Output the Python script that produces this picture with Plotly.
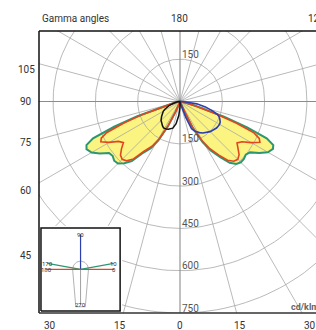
import numpy as np
import plotly.graph_objects as go

# ---------------- data (cd/klm) ----------------
gamma = [0, 5, 10, 15, 20, 23, 26, 29, 32, 36, 39, 42, 45, 48, 51, 54,
         57, 60, 63, 65, 67, 69, 71, 74, 78, 82, 86, 90]

c0 = [0, 0, 0, 1, 10, 40, 100, 155, 195, 235, 268, 285, 290, 282, 265, 250,
      262, 292, 318, 310, 285, 215, 138, 52, 15, 6, 2, 0]          # red, right
c10 = [0, 0, 0, 1, 12, 45, 108, 165, 205, 245, 280, 298, 305, 305, 300, 307,
       335, 360, 370, 365, 334, 255, 165, 62, 18, 8, 3, 0]         # green, right
c90 = [0, 0, 0, 8, 60, 105, 116, 123, 130, 138, 142, 147, 151, 154, 157, 160,
       161, 162, 160, 157, 153, 148, 140, 120, 92, 60, 32, 10]     # blue, right
c170 = [0, 0, 0, 1, 10, 40, 100, 158, 195, 228, 272, 295, 311, 314, 307, 311,
        339, 362, 372, 366, 335, 250, 160, 60, 18, 8, 3, 0]        # green, left
c180 = [0, 0, 0, 1, 9, 36, 94, 150, 187, 219, 262, 283, 290, 284, 267, 248,
        260, 290, 315, 308, 283, 213, 135, 52, 15, 6, 2, 0]        # red, left
c270 = [20, 50, 80, 98, 105, 107, 109, 110, 110, 106, 103, 98, 95, 90, 84, 78,
        73, 68, 60, 55, 48, 42, 36, 28, 17, 9, 4, 0]               # black, left

ring_values = [150, 300, 450, 600, 750]
left_ticks = [105, 90, 75, 60, 45]
bottom_ticks = [30, 15, 0, 15, 30]
bottom_sides = [-1, -1, 1, 1, 1]
top_ticks = [180, 120]
inset_planes = [0, 10, 90, 170, 180, 270]
inset_labels = ["0", "10", "90", "170", "180", "270"]

# ---------------- styles ----------------
YELLOW = "#fbf480"
GREEN = "#2b9772"
RED = "#e2461e"
BLUE = "#2c3fae"
BLACK = "#111111"
GRID = "#a8a8a8"
GRID_MAJOR = "#8c8c8c"
FONT = "Roboto"

X0, X1 = -500, 482.3
Y0, Y1 = -750, 250
LABEL_PAD = 46


def px(xv):
    return (xv - X0) / (X1 - X0)


def py(yv):
    return (yv - Y0) / (Y1 - Y0)


def curve(values, side):
    g = np.radians(gamma)
    v = np.array(values, float)
    return side * v * np.sin(g), -v * np.cos(g)


fig = go.Figure()

# yellow fill of the outer (C10 / C170) curve
rx, ry = curve(c10, 1)
lx, ly = curve(c170, -1)
gx = np.concatenate([rx[::-1], lx])
gy = np.concatenate([ry[::-1], ly])
fig.add_trace(go.Scatter(x=gx, y=gy, fill="toself", fillcolor=YELLOW,
                         mode="lines", line=dict(width=0), hoverinfo="skip"))

# polar grid: spokes every 15 deg and rings
sx, sy, mx, my = [], [], [], []
for a in range(0, 360, 15):
    ex, ey = 1500 * np.sin(np.radians(a)), -1500 * np.cos(np.radians(a))
    if a % 90 == 0:
        mx += [0, ex, None]
        my += [0, ey, None]
    else:
        sx += [0, ex, None]
        sy += [0, ey, None]
fig.add_trace(go.Scatter(x=sx, y=sy, mode="lines",
                         line=dict(color=GRID, width=0.8), hoverinfo="skip"))
t = np.radians(np.arange(0, 361, 2))
cx, cy = [], []
for r in ring_values:
    cx += list(r * np.cos(t)) + [None]
    cy += list(r * np.sin(t)) + [None]
fig.add_trace(go.Scatter(x=cx, y=cy, mode="lines",
                         line=dict(color=GRID, width=0.8), hoverinfo="skip"))
fig.add_trace(go.Scatter(x=mx, y=my, mode="lines",
                         line=dict(color=GRID_MAJOR, width=1.1), hoverinfo="skip"))

# curves
fig.add_trace(go.Scatter(x=gx, y=gy, mode="lines",
                         line=dict(color=GREEN, width=2), hoverinfo="skip"))
rx, ry = curve(c0, 1)
lx, ly = curve(c180, -1)
fig.add_trace(go.Scatter(x=np.concatenate([rx[::-1], lx]),
                         y=np.concatenate([ry[::-1], ly]), mode="lines",
                         line=dict(color=RED, width=1.6), hoverinfo="skip"))
bx, by = curve(c90, 1)
fig.add_trace(go.Scatter(x=np.append(bx, 0), y=np.append(by, 0), mode="lines",
                         line=dict(color=BLUE, width=1.6), hoverinfo="skip"))
kx, ky = curve(c270, -1)
fig.add_trace(go.Scatter(x=np.insert(kx, 0, 0), y=np.insert(ky, 0, 0), mode="lines",
                         line=dict(color=BLACK, width=1.5), hoverinfo="skip"))

# ---------------- inset (C-plane key) ----------------
fig.add_trace(go.Scatter(x=[-1, 1, 1, -1, -1], y=[-1, -1, 1, 1, -1],
                         fill="toself", fillcolor="white", mode="lines",
                         line=dict(color="#111111", width=1.5),
                         xaxis="x2", yaxis="y2", hoverinfo="skip"))
HEAD_R, BASE_HALF, LENGTH = 0.2, 0.12, 0.9
arc = np.radians(np.linspace(180, 0, 30))
lum_x = list(HEAD_R * np.cos(arc)) + [BASE_HALF, -BASE_HALF, -HEAD_R]
lum_y = list(HEAD_R * np.sin(arc)) + [-LENGTH, -LENGTH, 0]
fig.add_trace(go.Scatter(x=lum_x, y=lum_y, mode="lines",
                         line=dict(color="#a0a0a0", width=0.8),
                         xaxis="x2", yaxis="y2", hoverinfo="skip"))
plane_colors = {0: RED, 180: RED, 10: GREEN, 170: GREEN, 90: BLUE, 270: "#777777"}
RK = 0.85
for c in inset_planes:
    a = np.radians(c)
    fig.add_trace(go.Scatter(x=[0, RK * np.cos(a)], y=[0, RK * np.sin(a)],
                             mode="lines",
                             line=dict(color=plane_colors[c],
                                       width=1.2 if c != 270 else 0.7),
                             xaxis="x2", yaxis="y2", hoverinfo="skip"))

ann = []
for c, lab in zip(inset_planes, inset_labels):
    a = np.radians(c)
    ann.append(dict(x=RK * np.cos(a), y=RK * np.sin(a), xref="x2", yref="y2",
                    text=lab, showarrow=False, xanchor="center", yanchor="middle",
                    font=dict(size=6, color="#333", family=FONT)))

# ring labels
lab_font = dict(family=FONT, size=10, color="#555555")
for r in ring_values:
    ann.append(dict(x=px(0), y=py(-r), xref="paper", yref="paper", text=str(r),
                    showarrow=False, xanchor="left", yanchor="middle",
                    yshift=5, font=lab_font))
ann.append(dict(x=px(0), y=py(ring_values[0]), xref="paper", yref="paper",
                text=str(ring_values[0]), showarrow=False, xanchor="left",
                yanchor="middle", yshift=5, font=lab_font))

# gamma labels (placed where each spoke meets the label row / column)
tick_font = dict(family=FONT, size=10, color="#333333")
lxv = X0 - LABEL_PAD
for g in left_ticks:
    gr = np.radians(g)
    yv = min(lxv * np.cos(gr) / np.sin(gr), Y1 - 135)
    ann.append(dict(x=px(lxv), y=py(yv), xref="paper", yref="paper", text=str(g),
                    showarrow=False, xanchor="center", yanchor="middle",
                    font=tick_font))
byv = Y0 - LABEL_PAD
for g, s in zip(bottom_ticks, bottom_sides):
    xv = s * (-byv) * np.tan(np.radians(g))
    ann.append(dict(x=px(xv), y=py(byv), xref="paper", yref="paper", text=str(g),
                    showarrow=False, xanchor="center", yanchor="middle",
                    font=tick_font))
tyv = Y1 + LABEL_PAD
for g in top_ticks:
    gr = np.radians(g)
    xv = min((-tyv / np.cos(gr)) * np.sin(gr), 485)
    ann.append(dict(x=px(xv), y=py(tyv), xref="paper", yref="paper", text=str(g),
                    showarrow=False, xanchor="center", yanchor="middle",
                    font=tick_font))
ann.append(dict(x=px(X0) + 0.002, y=py(tyv), xref="paper", yref="paper",
                text="Gamma angles", showarrow=False, xanchor="left",
                yanchor="middle", font=tick_font))
ann.append(dict(x=px(500), y=py(-750), xref="paper", yref="paper",
                text="<b>cd/klm</b>", showarrow=False, xanchor="right",
                yanchor="bottom", yshift=-1,
                font=dict(family=FONT, size=9, color="#666666")))

shapes = [
    dict(type="line", xref="paper", yref="paper", x0=0, x1=0, y0=0, y1=1,
         line=dict(color="#111111", width=1.5)),
    dict(type="line", xref="paper", yref="paper", x0=0, x1=1.05, y0=1, y1=1,
         line=dict(color="#111111", width=1.5)),
    dict(type="line", xref="paper", yref="paper", x0=0, x1=1.05, y0=0, y1=0,
         line=dict(color="#333333", width=1.5)),
]

noax = dict(visible=False, showgrid=False, zeroline=False, fixedrange=True)
fig.update_layout(
    width=316, height=330, autosize=False,
    margin=dict(l=39, r=0, t=31, b=17, pad=0),
    paper_bgcolor="white", plot_bgcolor="white",
    showlegend=False,
    xaxis=dict(range=[X0, X1], **noax),
    yaxis=dict(range=[Y0, Y1], **noax),
    xaxis2=dict(range=[-1.05, 1.05], domain=[0, 0.30], anchor="y2", **noax),
    yaxis2=dict(range=[-1.05, 1.05], domain=[0, 0.309], anchor="x2", **noax),
    annotations=ann, shapes=shapes,
    font=dict(family=FONT),
)

fig.write_html(
    "out.html",
    config={"displayModeBar": False, "staticPlot": True},
    post_script="document.body.style.margin='0px';"
                "document.body.style.padding='0px';"
                "document.body.style.overflow='hidden';",
)
